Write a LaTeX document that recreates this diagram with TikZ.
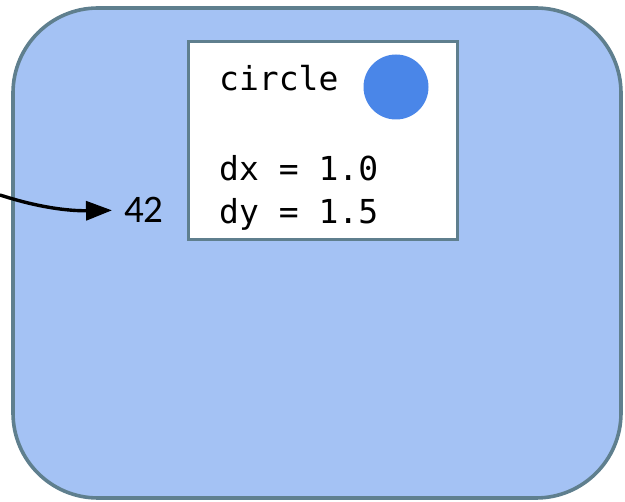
\documentclass[tikz,border=0pt]{standalone}
\usepackage{fontspec}
\newfontfamily\codefont{DejaVu Sans Mono}
\newfontfamily\numfont{Carlito}
\usetikzlibrary{arrows.meta}
\definecolor{outerfill}{HTML}{A4C2F4}
\definecolor{slate}{HTML}{5F7F8E}
\definecolor{dotblue}{HTML}{4A86E8}
\tikzset{
  outerbox/.style={draw=slate, fill=outerfill, line width=3.6pt, rounded corners=85pt,
    minimum width=608pt, minimum height=490pt, inner sep=0pt},
  innerbox/.style={draw=slate, fill=white, line width=3pt,
    minimum width=269pt, minimum height=198pt, inner sep=0pt},
  dot/.style={circle, fill=dotblue, minimum size=65pt, inner sep=0pt},
  codetext/.style={font=\codefont\fontsize{33}{38}\selectfont, inner sep=0pt, anchor=base west},
  numtext/.style={font=\numfont\fontsize{39}{44}\selectfont, inner ysep=0pt, inner xsep=12pt, anchor=base west},
  pointer/.style={line width=3.4pt, -{Triangle[length=26pt,width=19pt]}}
}
\begin{document}
\begin{tikzpicture}[x=1pt,y=-1pt]
\useasboundingbox (0,0) rectangle (625,502);
\node[outerbox] (frame) at (317,253) {};
\node[innerbox] (obj) at (322.5,141) {};
\node[dot] (disc) at (396,87) {};
\node[codetext] (name) at (219,91) {circle};
\node[codetext] (dx) at (219,181) {dx = 1.0};
\node[codetext] (dy) at (219,224) {dy = 1.5};
\node[numtext] (n42) at (112,223) {42};
\coordinate (src) at (0,195);
\draw[pointer] (src) .. controls (40,208) and (70,211) .. (n42.west);
\end{tikzpicture}
\end{document}
